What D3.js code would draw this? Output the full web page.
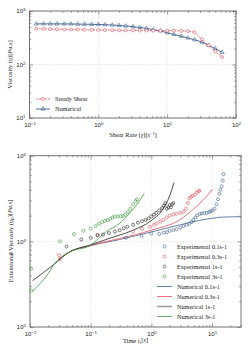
<!DOCTYPE html>
<html lang="en">
  <head>
    <meta charset="utf-8">
    <script src="https://cdn.jsdelivr.net/npm/d3@7/dist/d3.min.js"></script>
    <title>Viscosity charts</title>
    <style>
      body { margin: 0; background: #fff; }
      svg { display: block; font-family: "Liberation Serif", "DejaVu Serif", serif; }
      .grid line { stroke: #d8d8d8; stroke-dasharray: 1.5,1.5; stroke-width: 0.6; }
      .frame { fill: none; stroke: #666; stroke-width: 0.9; }
      .ax path { display: none; }
      .ax line { stroke: #555; stroke-width: 0.6; }
      .ax text { font-size: 6px; fill: #222; }
      .lbl { font-size: 6.4px; fill: #222; }
      .leg { font-size: 6.2px; fill: #222; }
    </style>
  </head>
  <body>
    <div id="chart"></div>
    <script>
      // shear viscosity
      const shearRate = [0.125, 0.16, 0.2, 0.25, 0.32, 0.4, 0.5, 0.63, 0.8, 1.0, 1.25, 1.6, 2.0, 2.5,
        3.2, 4.0, 5.0, 6.3, 8.0, 10, 12.5, 16, 20, 25, 32, 40, 50, 63];
      const steadyShear = [466, 462, 458, 455, 452, 450, 448, 446, 444, 442, 440, 438, 436, 434,
        433, 432, 431, 430, 430, 430, 428, 425, 420, 400, 295, 228, 176, 137];
      const numericalShear = [575, 575, 575, 575, 574, 572, 570, 567, 564, 560, 555, 547, 537, 525,
        510, 493, 473, 450, 425, 392, 365, 338, 313, 290, 262, 228, 198, 168];

      // extensional viscosity, experiments
      const exp01T = [0.38, 0.69, 1.0, 1.35, 1.6, 1.8, 2.0, 2.3, 2.6, 3.0, 3.4, 3.8, 4.2, 4.6, 4.9, 5.3,
        5.7, 6.3, 6.8, 7.5, 8.2, 9.0, 9.5, 10.2, 11, 11.8, 12.5, 13.2, 13.8, 14.4, 15, 15.5];
      const exp01V = [1100, 1160, 1230, 1220, 1260, 1280, 1330, 1350, 1390, 1440, 1510, 1560, 1600, 1680, 1780, 1900,
        2000, 2100, 2120, 2150, 2150, 2200, 2250, 2300, 2400, 2700, 3100, 3600, 4000, 4400, 5100, 6100];
      const exp03T = [0.03, 0.031, 0.13, 0.5, 0.7, 0.95, 1.1, 1.22, 1.4, 1.57, 1.8, 2.0, 2.3, 2.6, 3.0, 3.4,
        3.7, 4.0, 4.2, 4.5, 4.8, 5.2, 5.6, 6.0, 6.2];
      const exp03V = [690, 620, 1190, 1300, 1400, 1480, 1560, 1620, 1700, 1780, 1900, 2000, 2050, 2100, 2150, 2220,
        2400, 2800, 3170, 3300, 3400, 3500, 3700, 3850, 3900];
      const exp1T = [0.04, 0.07, 0.1, 0.13, 0.16, 0.2, 0.25, 0.3, 0.35, 0.4, 0.5, 0.6, 0.7, 0.8, 0.9, 1.0,
        1.1, 1.2, 1.35, 1.5, 1.6, 1.7, 1.8, 1.9, 2.0, 2.1, 2.2, 2.3];
      const exp1V = [870, 1050, 1100, 1180, 1200, 1250, 1300, 1350, 1420, 1480, 1560, 1650, 1720, 1780, 1850, 1950,
        2050, 2150, 2300, 2450, 2600, 2800, 2400, 2500, 2650, 2500, 2700, 2800];
      const exp3T = [0.0105, 0.0105, 0.031, 0.053, 0.076, 0.1, 0.12, 0.137, 0.155, 0.172, 0.19, 0.21, 0.23,
        0.25, 0.28, 0.31, 0.34, 0.37, 0.41, 0.45, 0.5, 0.55, 0.58];
      const exp3V = [480, 265, 1000, 1215, 1330, 1415, 1510, 1600, 1680, 1740, 1770, 1830, 1900,
        1950, 1960, 1950, 1980, 2050, 2200, 2400, 2700, 2950, 3090];

      // extensional viscosity, numerical
      const num01T = [0.03, 0.043, 0.1, 0.3, 1, 3, 6, 10, 15, 30];
      const num01V = [620, 740, 890, 1050, 1290, 1560, 1750, 1860, 1920, 1940];
      const num03T = [0.03, 0.043, 0.1, 0.3, 1, 3, 5, 7, 10.2];
      const num03V = [620, 740, 900, 1080, 1350, 1800, 2400, 3000, 4050];
      const num1T = [0.011, 0.025, 0.043, 0.1, 0.2, 0.5, 1.0, 1.5, 2.0, 2.36];
      const num1V = [347, 540, 740, 910, 1080, 1350, 1750, 2300, 3400, 4840];
      const num3T = [0.011, 0.02, 0.025, 0.043, 0.1, 0.18, 0.3, 0.44, 0.6, 0.76];
      const num3V = [263, 420, 540, 740, 905, 1300, 1620, 2140, 2800, 3630];

      const cBlue = '#3d6191', cRed = '#ee4b5a', cBlack = '#222', cGreen = '#3c9c3c';

      const svg = d3.select('#chart').append('svg').attr('width', 249).attr('height', 353);

      function minorTicks(lo, hi) {
        const t = [];
        for (let e = lo; e < hi; e++) for (let m = 2; m < 10; m++) t.push(m * Math.pow(10, e));
        return t;
      }
      function majorTicks(lo, hi) {
        const t = [];
        for (let e = lo; e <= hi; e++) t.push(Math.pow(10, e));
        return t;
      }
      function supLabels(sel) {
        sel.selectAll('.tick text').each(function(d) {
          const e = Math.round(Math.log10(d));
          const t = d3.select(this).text(null);
          t.append('tspan').text('10');
          t.append('tspan').attr('dy', '-0.45em').attr('font-size', '4.4px').text(String(e).replace('-', '\u2212'));
        });
      }

      function frame(g, x, y, xr, yr) {
        const [x0, x1] = x.range(), [y1, y0] = y.range();
        const xMaj = majorTicks(xr[0], xr[1]).filter(v => v >= x.domain()[0] && v <= x.domain()[1]);
        const xMin = minorTicks(xr[0], xr[1]).filter(v => v >= x.domain()[0] && v <= x.domain()[1]);
        const yMaj = majorTicks(yr[0], yr[1]);
        const yMin = minorTicks(yr[0], yr[1]);

        g.append('g').attr('class', 'grid')
          .selectAll('line.v').data(xMaj).enter().append('line')
          .attr('x1', d => x(d)).attr('x2', d => x(d)).attr('y1', y0).attr('y2', y1);
        g.append('g').attr('class', 'grid')
          .selectAll('line.h').data(yMaj).enter().append('line')
          .attr('x1', x0).attr('x2', x1).attr('y1', d => y(d)).attr('y2', d => y(d));

        const bx = g.append('g').attr('class', 'ax').attr('transform', `translate(0,${y1})`)
          .call(d3.axisBottom(x).tickValues(xMaj).tickSizeInner(-3.5).tickPadding(5));
        supLabels(bx);
        g.append('g').attr('class', 'ax').attr('transform', `translate(0,${y1})`)
          .call(d3.axisBottom(x).tickValues(xMin).tickSizeInner(-1.8).tickFormat(''));
        g.append('g').attr('class', 'ax').attr('transform', `translate(0,${y0})`)
          .call(d3.axisTop(x).tickValues(xMaj).tickSizeInner(-3.5).tickFormat(''));
        g.append('g').attr('class', 'ax').attr('transform', `translate(0,${y0})`)
          .call(d3.axisTop(x).tickValues(xMin).tickSizeInner(-1.8).tickFormat(''));

        const ly = g.append('g').attr('class', 'ax').attr('transform', `translate(${x0},0)`)
          .call(d3.axisLeft(y).tickValues(yMaj).tickSizeInner(-3.5).tickPadding(4));
        supLabels(ly);
        g.append('g').attr('class', 'ax').attr('transform', `translate(${x0},0)`)
          .call(d3.axisLeft(y).tickValues(yMin).tickSizeInner(-1.8).tickFormat(''));
        g.append('g').attr('class', 'ax').attr('transform', `translate(${x1},0)`)
          .call(d3.axisRight(y).tickValues(yMaj).tickSizeInner(-3.5).tickFormat(''));
        g.append('g').attr('class', 'ax').attr('transform', `translate(${x1},0)`)
          .call(d3.axisRight(y).tickValues(yMin).tickSizeInner(-1.8).tickFormat(''));

        g.append('rect').attr('class', 'frame')
          .attr('x', x0).attr('y', y0).attr('width', x1 - x0).attr('height', y1 - y0);
      }

      // ---- top chart ----
      const x1s = d3.scaleLog().domain([0.1, 100]).range([29.5, 236]);
      const y1s = d3.scaleLog().domain([10, 1000]).range([118, 11]);
      const topG = svg.append('g');
      frame(topG, x1s, y1s, [-1, 2], [1, 3]);

      const line1 = d3.line().x(d => x1s(d[0])).y(d => y1s(d[1]));
      const ssData = shearRate.map((v, i) => [v, steadyShear[i]]);
      const nsData = shearRate.map((v, i) => [v, numericalShear[i]]);

      topG.append('path').datum(nsData).attr('d', line1)
        .attr('fill', 'none').attr('stroke', cBlue).attr('stroke-width', 0.9);
      topG.append('path').datum(ssData).attr('d', line1)
        .attr('fill', 'none').attr('stroke', cRed).attr('stroke-width', 0.8).attr('stroke-dasharray', '2,1');

      const tri = d3.symbol().type(d3.symbolTriangle).size(7);
      topG.selectAll('.tri').data(nsData).enter().append('path')
        .attr('d', tri).attr('transform', d => `translate(${x1s(d[0])},${y1s(d[1])})`)
        .attr('fill', 'none').attr('stroke', cBlue).attr('stroke-width', 0.6);
      topG.selectAll('.ss').data(ssData).enter().append('circle')
        .attr('cx', d => x1s(d[0])).attr('cy', d => y1s(d[1])).attr('r', 1.5)
        .attr('fill', '#fff').attr('stroke', cRed).attr('stroke-width', 0.6);

      // top legend
      const tl = topG.append('g');
      tl.append('line').attr('x1', 36).attr('x2', 50).attr('y1', 99).attr('y2', 99)
        .attr('stroke', cRed).attr('stroke-width', 0.8).attr('stroke-dasharray', '2,1');
      tl.append('circle').attr('cx', 43).attr('cy', 99).attr('r', 1.5)
        .attr('fill', '#fff').attr('stroke', cRed).attr('stroke-width', 0.6);
      tl.append('text').attr('class', 'leg').attr('x', 55).attr('y', 101.2).text('Steady Shear');
      tl.append('line').attr('x1', 36).attr('x2', 50).attr('y1', 109).attr('y2', 109)
        .attr('stroke', cBlue).attr('stroke-width', 0.9);
      tl.append('path').attr('d', tri).attr('transform', 'translate(43,109)')
        .attr('fill', 'none').attr('stroke', cBlue).attr('stroke-width', 0.6);
      tl.append('text').attr('class', 'leg').attr('x', 55).attr('y', 111.2).text('Numerical');

      // top labels
      const xl1 = svg.append('text').attr('class', 'lbl').attr('x', 133).attr('y', 136.5).attr('text-anchor', 'middle');
      xl1.append('tspan').text('Shear Rate (');
      xl1.append('tspan').attr('font-style', 'italic').text('\u03b3\u0307');
      xl1.append('tspan').text(')[');
      xl1.append('tspan').attr('font-style', 'italic').text('s');
      xl1.append('tspan').attr('dy', '-0.45em').attr('font-size', '4.4px').text('\u22121');
      xl1.append('tspan').attr('dy', '0.45em').text(']');

      const yl1 = svg.append('text').attr('class', 'lbl').attr('text-anchor', 'middle')
        .attr('transform', 'translate(12,64.5) rotate(-90)');
      yl1.append('tspan').text('Viscosity (');
      yl1.append('tspan').attr('font-style', 'italic').text('\u03b7');
      yl1.append('tspan').text(')[');
      yl1.append('tspan').attr('font-style', 'italic').text('Pa.s');
      yl1.append('tspan').text(']');

      // ---- bottom chart ----
      const x2s = d3.scaleLog().domain([0.01, 30]).range([30, 241]);
      const y2s = d3.scaleLog().domain([100, 10000]).range([327, 155.7]);
      const botG = svg.append('g');
      frame(botG, x2s, y2s, [-2, 2], [2, 4]);

      const line2 = d3.line().curve(d3.curveMonotoneX).x(d => x2s(d[0])).y(d => y2s(d[1]));
      const numSeries = [
        [num01T, num01V, cBlue],
        [num03T, num03V, cRed],
        [num1T, num1V, cBlack],
        [num3T, num3V, cGreen]
      ];
      numSeries.forEach(([t, v, c]) => {
        botG.append('path').datum(t.map((d, i) => [d, v[i]])).attr('d', line2)
          .attr('fill', 'none').attr('stroke', c).attr('stroke-width', 0.8);
      });

      const expSeries = [
        [exp01T, exp01V, cBlue],
        [exp03T, exp03V, cRed],
        [exp1T, exp1V, cBlack],
        [exp3T, exp3V, cGreen]
      ];
      expSeries.forEach(([t, v, c]) => {
        botG.append('g').selectAll('circle').data(t.map((d, i) => [d, v[i]])).enter().append('circle')
          .attr('cx', d => x2s(d[0])).attr('cy', d => y2s(d[1])).attr('r', 1.5)
          .attr('fill', 'none').attr('stroke', c).attr('stroke-width', 0.6);
      });

      // bottom legend
      const legNames = ['Experimental 0.1s-1', 'Experimental 0.3s-1', 'Experimental 1s-1', 'Experimental 3s-1',
        'Numerical 0.1s-1', 'Numerical 0.3s-1', 'Numerical 1s-1', 'Numerical 3s-1'];
      const legColors = [cBlue, cRed, '#444', cGreen, cBlue, cRed, '#888', cGreen];
      const bl = botG.append('g');
      legNames.forEach((n, i) => {
        const yy = 246.5 + i * 10;
        if (i < 4) {
          bl.append('circle').attr('cx', 164.5).attr('cy', yy).attr('r', 1.5)
            .attr('fill', 'none').attr('stroke', legColors[i]).attr('stroke-width', 0.6);
        } else {
          bl.append('line').attr('x1', 157).attr('x2', 172).attr('y1', yy).attr('y2', yy)
            .attr('stroke', legColors[i]).attr('stroke-opacity', 0.8)
            .attr('stroke-width', i === 6 ? 1.6 : 1);
        }
        bl.append('text').attr('class', 'leg').attr('x', 177).attr('y', yy + 2.1).text(n);
      });

      // bottom labels
      const xl2 = svg.append('text').attr('class', 'lbl').attr('x', 135.5).attr('y', 343).attr('text-anchor', 'middle');
      xl2.append('tspan').text('Time ');
      xl2.append('tspan').attr('font-style', 'italic').text('t');
      xl2.append('tspan').attr('dy', '0.3em').attr('font-size', '4.4px').attr('font-style', 'italic').text('s');
      xl2.append('tspan').attr('dy', '-0.3em').text('[');
      xl2.append('tspan').attr('font-style', 'italic').text('s');
      xl2.append('tspan').text(']');

      const yl2 = svg.append('text').attr('class', 'lbl').attr('text-anchor', 'middle')
        .attr('transform', 'translate(13,241) rotate(-90)');
      yl2.append('tspan').text('Extensional Viscosity (');
      yl2.append('tspan').attr('font-style', 'italic').text('\u03b7');
      yl2.append('tspan').attr('dy', '0.3em').attr('font-size', '4.4px').attr('font-style', 'italic').text('E');
      yl2.append('tspan').attr('dy', '-0.3em').text(')[');
      yl2.append('tspan').attr('font-style', 'italic').text('Pa.s');
      yl2.append('tspan').text(']');
    </script>
  </body>
</html>
